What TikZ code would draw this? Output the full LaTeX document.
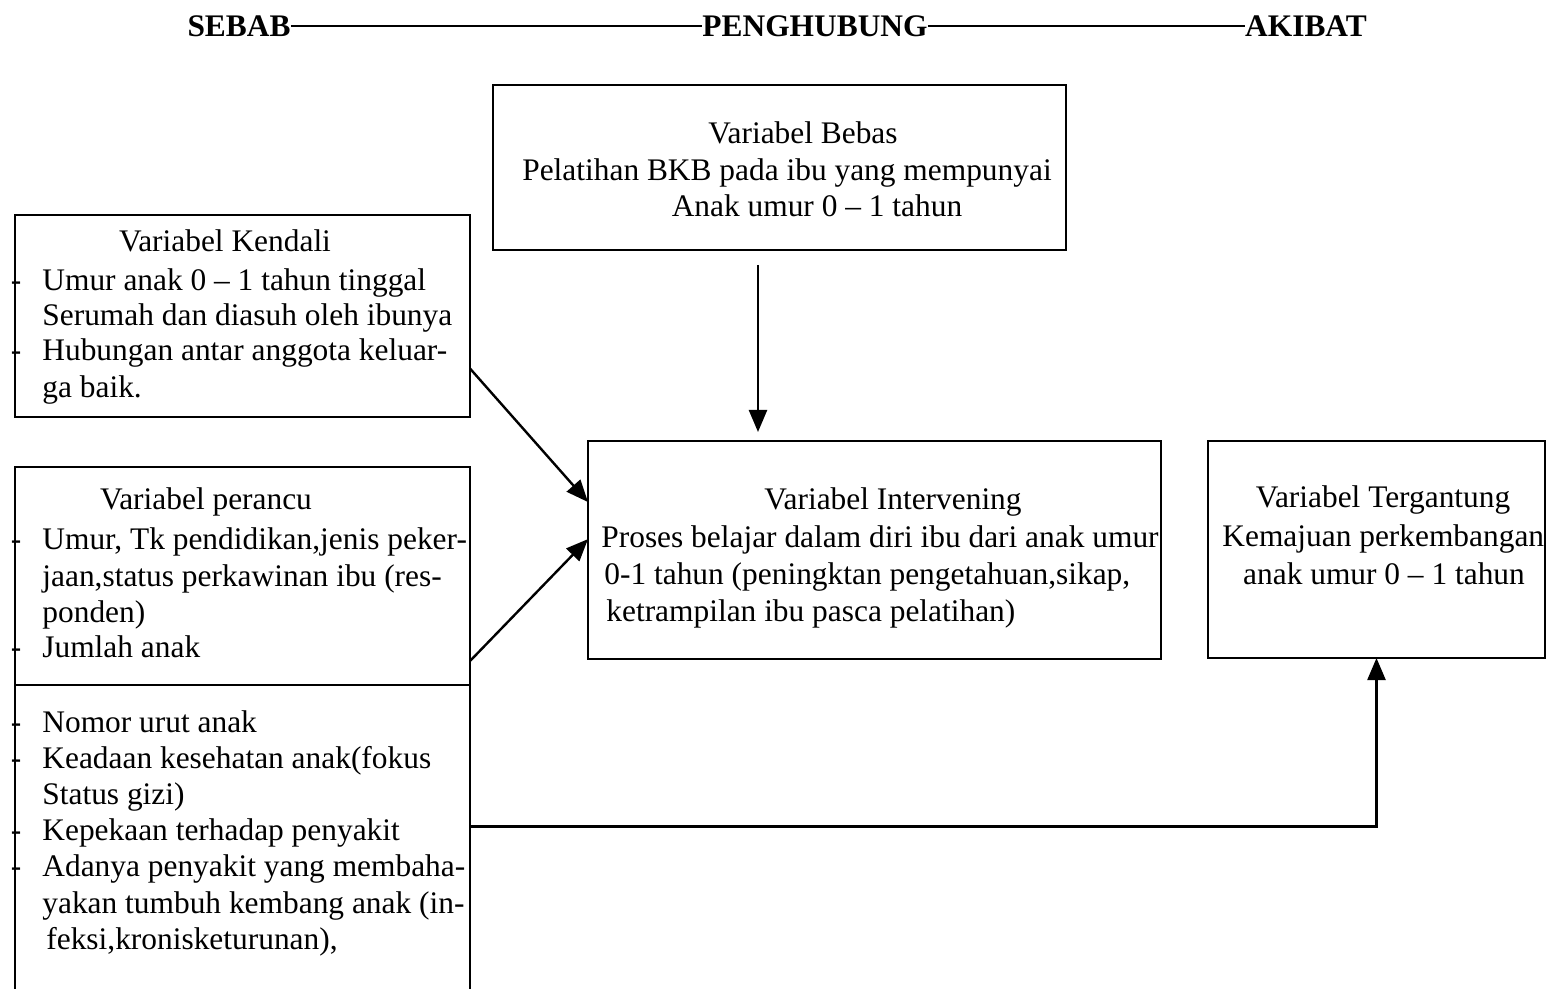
\documentclass[tikz,border=0pt]{standalone}
\usepackage{fontspec}
\setmainfont{Liberation Serif}
\usetikzlibrary{fit,calc,arrows.meta}
\begin{document}
\begin{tikzpicture}[x=0.5pt,y=-0.5pt,
  box/.style={draw, line width=1pt, inner sep=0pt, outer sep=0pt},
  hidebox/.style={inner sep=0pt, outer sep=0pt},
  body/.style={inner sep=0pt, font=\fontsize{15.7}{18}\selectfont},
  lft/.style={body, anchor=base west},
  ctr/.style={body, anchor=base},
  hdr/.style={inner sep=0pt, font=\fontsize{15.7}{18}\selectfont\bfseries},
  tick/.style={body, anchor=base},
  arr/.style={line width=1.2pt, -{Triangle[length=11pt,width=9pt]}},
  rule/.style={line width=1.1pt}
]
\useasboundingbox (0,0) rectangle (1559,989);

% header
\node[hdr] (sebab) at (239,26) {SEBAB};
\node[hdr] (peng) at (815,26) {PENGHUBUNG};
\node[hdr] (akibat) at (1306,26) {AKIBAT};
\draw[rule] (sebab) -- (peng);
\draw[rule] (peng) -- (akibat);

% boxes
\node[box, fit={(493,85) (1066,250)}] (bebas) {};
\node[box, fit={(15,215) (470,417)}] (kendali) {};
\node[box, fit={(15,467) (470,685)}] (perancu) {};
\node[hidebox, fit={(15,685) (470,989)}] (low) {};
\draw[line width=1pt] (low.south west) -- (low.north west) -- (low.north east) -- (low.south east);
\node[box, fit={(588,441) (1161,659)}] (inter) {};
\node[box, fit={(1208,441) (1545,658)}] (terg) {};

% Bebas text
\node[ctr] (b1) at (803,144) {Variabel Bebas};
\node[ctr] (b2) at (787,181) {Pelatihan BKB pada ibu yang mempunyai};
\node[ctr] (b3) at (817,217) {Anak umur 0 -- 1 tahun};

% Kendali text
\node[ctr] (k0) at (225,252) {Variabel Kendali};
\node[tick] (kt1) at (16,291) {-};
\node[lft] (k1) at (42,291) {Umur anak 0 -- 1 tahun tinggal};
\node[lft] (k2) at (42,326) {Serumah dan diasuh oleh ibunya};
\node[tick] (kt2) at (16,361) {-};
\node[lft] (k3) at (42,361) {Hubungan antar anggota keluar-};
\node[lft] (k4) at (42,398) {ga baik.};

% Perancu text
\node[ctr] (p0) at (206,510) {Variabel perancu};
\node[tick] (pt1) at (16,550) {-};
\node[lft] (p1) at (42,550) {Umur, Tk pendidikan,jenis peker-};
\node[lft] (p2) at (42,587) {jaan,status perkawinan ibu (res-};
\node[lft] (p3) at (42,622) {ponden)};
\node[tick] (pt2) at (16,657) {-};
\node[lft] (p4) at (42,657) {Jumlah anak};

% lower text
\node[tick] (lt1) at (16,732) {-};
\node[lft] (l1) at (42,732) {Nomor urut anak};
\node[tick] (lt2) at (16,768) {-};
\node[lft] (l2) at (42,768) {Keadaan kesehatan anak(fokus};
\node[lft] (l3) at (42,804) {Status gizi)};
\node[tick] (lt3) at (16,840) {-};
\node[lft] (l4) at (42,840) {Kepekaan terhadap penyakit};
\node[tick] (lt4) at (16,876) {-};
\node[lft] (l5) at (42,876) {Adanya penyakit yang membaha-};
\node[lft] (l6) at (42,913) {yakan tumbuh kembang anak (in-};
\node[lft] (l7) at (46,949) {feksi,kronisketurunan),};

% Intervening text
\node[ctr] (i0) at (893,510) {Variabel Intervening};
\node[lft] (i1) at (601,547) {Proses belajar dalam diri ibu dari anak umur};
\node[lft] (i2) at (604,585) {0-1 tahun (peningktan pengetahuan,sikap,};
\node[lft] (i3) at (606,621) {ketrampilan ibu pasca pelatihan)};

% Tergantung text
\node[ctr] (t0) at (1383,508) {Variabel Tergantung};
\node[lft] (t1) at (1222,546) {Kemajuan perkembangan};
\node[ctr] (t2) at (1384,584) {anak umur 0 -- 1 tahun};

% connectors
\draw[arr, shorten >=4.5pt] ($(bebas.south)+(-21.5,15)$) coordinate (bs) -- (bs |- inter.north);
\draw[arr] ($(kendali.north east)!0.76!(kendali.south east)$) -- ($(inter.north west)!0.28!(inter.south west)$);
\draw[arr] ($(perancu.north east)!0.89!(perancu.south east)$) -- ($(inter.north west)!0.45!(inter.south west)$);
\draw[arr] ($(low.north east)!0.465!(low.south east)$) -| (terg.south);
\end{tikzpicture}
\end{document}
